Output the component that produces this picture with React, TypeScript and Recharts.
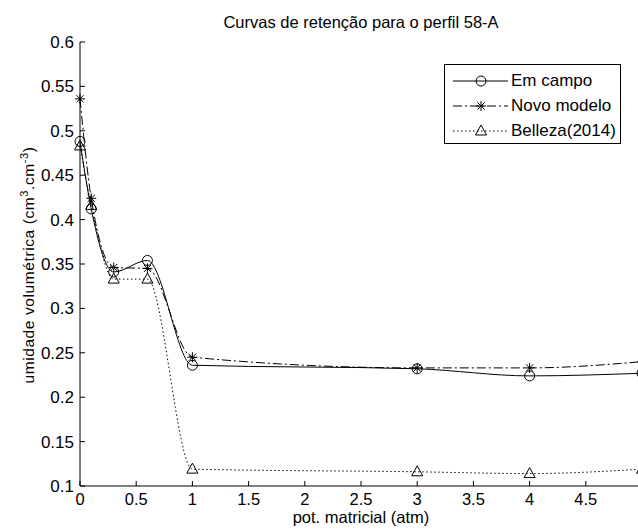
import React from 'react';
import { LineChart, Line, XAxis, YAxis, Legend } from 'recharts';

// potencial matricial (atm) e umidade volumétrica de cada curva
const potMatricial = [0, 0.1, 0.3, 0.6, 1, 3, 4, 5];
const emCampo = [0.488, 0.412, 0.341, 0.354, 0.236, 0.232, 0.224, 0.227];
const novoModelo = [0.536, 0.424, 0.346, 0.345, 0.245, 0.233, 0.233, 0.24];
const belleza = [0.483, 0.416, 0.333, 0.333, 0.119, 0.116, 0.114, 0.119];

const xTicks = [0, 0.5, 1, 1.5, 2, 2.5, 3, 3.5, 4, 4.5, 5];
const yTicks = [0.1, 0.15, 0.2, 0.25, 0.3, 0.35, 0.4, 0.45, 0.5, 0.55, 0.6];

const data = potMatricial.map((x, i) => ({
    x,
    emCampo: emCampo[i],
    novoModelo: novoModelo[i],
    belleza: belleza[i],
}));

const FONT = '"Liberation Sans", Arial, sans-serif';
const INK = '#000';
const DASH_DOT = '9 3 2 3';
const DOTTED = '1.5 2.5';

const Circle = ({ cx, cy }: { cx: number; cy: number }) => (
    <circle cx={cx} cy={cy} r={5} fill="none" stroke={INK} strokeWidth={1} />
);

const Star = ({ cx, cy }: { cx: number; cy: number }) => (
    <g stroke={INK} strokeWidth={1}>
        <line x1={cx - 5} y1={cy} x2={cx + 5} y2={cy} />
        <line x1={cx} y1={cy - 5} x2={cx} y2={cy + 5} />
        <line x1={cx - 3.6} y1={cy - 3.6} x2={cx + 3.6} y2={cy + 3.6} />
        <line x1={cx - 3.6} y1={cy + 3.6} x2={cx + 3.6} y2={cy - 3.6} />
    </g>
);

const Triangle = ({ cx, cy }: { cx: number; cy: number }) => (
    <polygon
        points={`${cx},${cy - 6} ${cx - 5.5},${cy + 4} ${cx + 5.5},${cy + 4}`}
        fill="none"
        stroke={INK}
        strokeWidth={1}
    />
);

const legendRows = [
    { name: 'Em campo', dash: undefined as string | undefined, Marker: Circle },
    { name: 'Novo modelo', dash: DASH_DOT, Marker: Star },
    { name: 'Belleza(2014)', dash: DOTTED, Marker: Triangle },
];

const LegendBox = () => (
    <div
        style={{
            width: 177,
            height: 80,
            border: '1px solid #000',
            background: '#fff',
            fontFamily: FONT,
            fontSize: 17,
            paddingTop: 3,
            boxSizing: 'border-box',
        }}
    >
        {legendRows.map(({ name, dash, Marker }) => (
            <div key={name} style={{ display: 'flex', alignItems: 'center', height: 25 }}>
                <svg width={66} height={20} style={{ display: 'block' }}>
                    <line x1={8} y1={10} x2={63} y2={10} stroke={INK} strokeDasharray={dash} />
                    <Marker cx={36} cy={10} />
                </svg>
                <span style={{ lineHeight: '20px' }}>{name}</span>
            </div>
        ))}
    </div>
);

export default function App() {
    return (
        <div
            style={{
                position: 'absolute',
                left: 0,
                top: 0,
                width: 638,
                height: 532,
                overflow: 'hidden',
                background: '#fff',
            }}
        >
            <LineChart
                width={660}
                height={532}
                data={data}
                margin={{ top: 42, right: 18, bottom: 6, left: 20 }}
                style={{ fontFamily: FONT }}
            >
                <text x={361} y={28} textAnchor="middle" fontSize={16.5} fill={INK} fontFamily={FONT}>
                    Curvas de retenção para o perfil 58-A
                </text>
                <text x={361} y={523} textAnchor="middle" fontSize={16.5} fill={INK} fontFamily={FONT}>
                    pot. matricial (atm)
                </text>
                <text
                    transform="translate(34, 265) rotate(-90)"
                    textAnchor="middle"
                    fontSize={15.5}
                    letterSpacing={0.6}
                    fill={INK}
                    fontFamily={FONT}
                >
                    umidade volumétrica (cm
                    <tspan fontSize={11} dy={-6}>3</tspan>
                    <tspan dy={6}>.cm</tspan>
                    <tspan fontSize={11} dy={-6}>-3</tspan>
                    <tspan dy={6}>)</tspan>
                </text>
                <XAxis
                    dataKey="x"
                    type="number"
                    domain={[0, 5]}
                    ticks={xTicks}
                    interval={0}
                    height={40}
                    tickSize={-5}
                    tickMargin={12}
                    tickFormatter={(v: number) => (v === 5 ? '' : String(v))}
                    axisLine={{ stroke: INK }}
                    tickLine={{ stroke: INK }}
                    tick={{ fill: INK, fontSize: 16.5 }}
                />
                <XAxis
                    xAxisId="top"
                    dataKey="x"
                    type="number"
                    orientation="top"
                    domain={[0, 5]}
                    ticks={xTicks}
                    interval={0}
                    height={0}
                    tickSize={-5}
                    tick={false}
                    axisLine={{ stroke: INK }}
                    tickLine={{ stroke: INK }}
                />
                <YAxis
                    type="number"
                    domain={[0.1, 0.6]}
                    ticks={yTicks}
                    interval={0}
                    width={60}
                    tickSize={-5}
                    tickMargin={11}
                    tickFormatter={(v: number) => String(v)}
                    axisLine={{ stroke: INK }}
                    tickLine={{ stroke: INK }}
                    tick={{ fill: INK, fontSize: 17 }}
                />
                <YAxis
                    yAxisId="right"
                    type="number"
                    orientation="right"
                    domain={[0.1, 0.6]}
                    ticks={yTicks}
                    interval={0}
                    width={0}
                    tickSize={-5}
                    tick={false}
                    axisLine={{ stroke: INK }}
                    tickLine={{ stroke: INK }}
                />
                <Legend
                    layout="horizontal"
                    verticalAlign="middle"
                    align="center"
                    content={() => <LegendBox />}
                    wrapperStyle={{ position: 'absolute', left: 444, top: 64, width: 177, height: 80 }}
                />
                <Line
                    dataKey="emCampo"
                    type="monotone"
                    stroke={INK}
                    strokeWidth={1}
                    isAnimationActive={false}
                    dot={(p: any) => <Circle key={`c${p.index}`} cx={p.cx} cy={p.cy} />}
                />
                <Line
                    dataKey="novoModelo"
                    type="monotone"
                    stroke={INK}
                    strokeWidth={1}
                    strokeDasharray={DASH_DOT}
                    isAnimationActive={false}
                    dot={(p: any) => <Star key={`s${p.index}`} cx={p.cx} cy={p.cy} />}
                />
                <Line
                    dataKey="belleza"
                    type="monotone"
                    stroke={INK}
                    strokeWidth={1}
                    strokeDasharray={DOTTED}
                    isAnimationActive={false}
                    dot={(p: any) => <Triangle key={`t${p.index}`} cx={p.cx} cy={p.cy} />}
                />
            </LineChart>
        </div>
    );
}
